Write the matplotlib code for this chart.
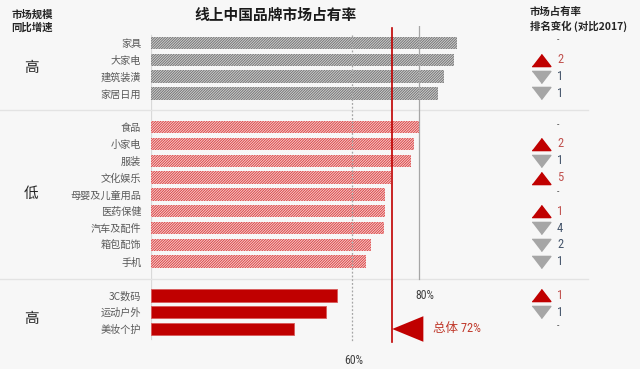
import matplotlib
matplotlib.use('Agg')
import matplotlib.pyplot as plt
from matplotlib import font_manager
from matplotlib.transforms import blended_transform_factory
from matplotlib.patches import Polygon

# ---------------- data ----------------
categories = ['家具', '大家电', '建筑装潢', '家居日用',
              '食品', '小家电', '服装', '文化娱乐', '母婴及儿童用品', '医药保健',
              '汽车及配件', '箱包配饰', '手机',
              '3C数码', '运动户外', '美妆个护']
shares = [91.3, 90.4, 87.6, 85.6,
          80.3, 78.5, 77.6, 71.6, 69.8, 69.8, 69.6, 65.6, 64.1,
          55.4, 52.2, 42.7]
rank_change = ['-', '+2', '-1', '-1',
               '-', '+2', '-1', '+5', '-', '+1', '-4', '-2', '-1',
               '+1', '-1', '-']
group_labels = ['高', '低', '高']
group_sizes = [4, 9, 3]
overall = 72
ref_lines = [60, 80]

# ---------------- fonts ----------------
names = {f.name for f in font_manager.fontManager.ttflist}
narrow = 'Liberation Sans Narrow' if 'Liberation Sans Narrow' in names else (
    'Roboto Condensed' if 'Roboto Condensed' in names else 'DejaVu Sans')
CJK = 'Noto Sans CJK SC'
plt.rcParams['font.family'] = [CJK, 'DejaVu Sans']
plt.rcParams['hatch.linewidth'] = 0.6
NUMF = [narrow, CJK]

BG = '#f7f7f7'
fig = plt.figure(figsize=(6.4, 3.69), dpi=100, facecolor=BG)
W, H = 640, 369

# axes: x 0..100 mapped to px 151..486 ; rows -1..18 mapped to px 26.2..345.8
px_per_row = 16.82
top_px = 43 - px_per_row
bot_px = 329 + px_per_row
ax = fig.add_axes([151 / W, 1 - bot_px / H, 335 / W, (bot_px - top_px) / H])
ax.set_facecolor('none')
ax.set_xlim(0, 100)
ax.set_ylim(18, -1)
for s in ax.spines.values():
    s.set_visible(False)
ax.set_xticks([])

# rows with gaps between groups
rows = []
grp_of = []
start = 0
for gi, n in enumerate(group_sizes):
    rows += list(range(start, start + n))
    grp_of += [gi] * n
    start += n + 1

styles = [
    dict(facecolor='#cdcdcd', edgecolor='#6f6f6f', hatch='/' * 13, linewidth=0),
    dict(facecolor='#f6cccc', edgecolor='#d93c3c', hatch='/' * 13, linewidth=0),
    dict(facecolor='#c00000', edgecolor='#d85a5a', linewidth=0.6),
]
for r, v, g in zip(rows, shares, grp_of):
    ax.barh(r, v, height=0.74, left=0, **styles[g], zorder=2)

ax.set_yticks(rows)
ax.set_yticklabels(categories, fontsize=7.3, color='#595959')
ax.tick_params(axis='y', length=0, pad=7)

# vertical guides
ax.plot([0, 0], [-0.5, 17.6], color='#d9d9d9', lw=0.9, zorder=1)
ax.plot([ref_lines[0]] * 2, [-0.5, 17.8], color='#a6a6a6', lw=0.9, ls=(0, (1.5, 1.5)), zorder=3)
ax.plot([ref_lines[1]] * 2, [-1, 14], color='#a6a6a6', lw=0.9, zorder=3)
ax.plot([overall] * 2, [-0.9, 17.8], color='#c00000', lw=1.2, zorder=4)

# group separators spanning the figure
tfig = blended_transform_factory(fig.transFigure, ax.transData)
start = 0
for n in group_sizes[:-1]:
    sep = start + n
    ax.plot([0, 588 / W], [sep, sep], transform=tfig, color='#e3e3e3', lw=1, clip_on=False, zorder=1)
    start += n + 1

# percent labels
ax.text(ref_lines[1] + 1.7, 15, f'{ref_lines[1]}%', fontsize=8.5, color='#404040',
        family=NUMF, ha='center', va='center', clip_on=False)
ax.text(ref_lines[0] + 0.4, 18.85, f'{ref_lines[0]}%', fontsize=8.5, color='#404040',
        family=NUMF, ha='center', va='center', clip_on=False)

# overall arrow + label
last = rows[-1]
tri = Polygon([(overall, last), (overall + 9.3, last - 0.76), (overall + 9.3, last + 0.76)],
              closed=True, facecolor='#c00000', edgecolor='none', zorder=5, clip_on=False)
ax.add_patch(tri)
ax.text(overall + 12.2, last, f'总体 {overall}%', fontsize=9, color='#c0392b',
        family=NUMF, ha='left', va='center', clip_on=False)

# group labels on left
start = 0
gy = []
for gi, n in enumerate(group_sizes):
    gy.append(start + (n - 1) / 2)
    start += n + 1
gy[-1] += 0.4
for lab, y in zip(group_labels, gy):
    ax.text(31 / W, y, lab, transform=tfig, fontsize=10.5, color='#262626',
            ha='center', va='center', clip_on=False)

# rank change column
up_m = [(-1, -0.65), (1, -0.65), (0, 0.65)]
dn_m = [(-1, 0.65), (1, 0.65), (0, -0.65)]
for r, ch in zip(rows, rank_change):
    if ch == '-':
        ax.text(557 / W, r - 0.15, '-', transform=tfig, fontsize=7, color='#595959',
                family=NUMF, ha='left', va='center', clip_on=False)
        continue
    up = ch.startswith('+')
    ax.plot([541 / W], [r], transform=tfig, marker=up_m if up else dn_m, ms=13.5,
            color='#c00000' if up else '#a6a6a6', ls='none', clip_on=False)
    ax.text(557 / W, r, ch[1:], transform=tfig, fontsize=9,
            color='#c0504d' if up else '#44546a', family=NUMF,
            ha='left', va='center', clip_on=False)

# headings
fig.text(276 / W, 1 - 15 / H, '线上中国品牌市场占有率', fontsize=10.6, fontweight='bold',
         color='#1a1a1a', ha='center', va='center')
fig.text(32 / W, 1 - 15 / H, '市场规模', fontsize=7.5, fontweight='bold',
         color='#262626', ha='center', va='center')
fig.text(32 / W, 1 - 28 / H, '同比增速', fontsize=7.5, fontweight='bold',
         color='#262626', ha='center', va='center')
fig.text(530 / W, 1 - 12 / H, '市场占有率', fontsize=7.5, fontweight='bold',
         color='#262626', ha='left', va='center')
fig.text(530 / W, 1 - 26 / H, '排名变化 (对比2017)', fontsize=7.5, fontweight='bold',
         color='#262626', ha='left', va='center')

fig.savefig('out.png', dpi=100, facecolor=BG)
